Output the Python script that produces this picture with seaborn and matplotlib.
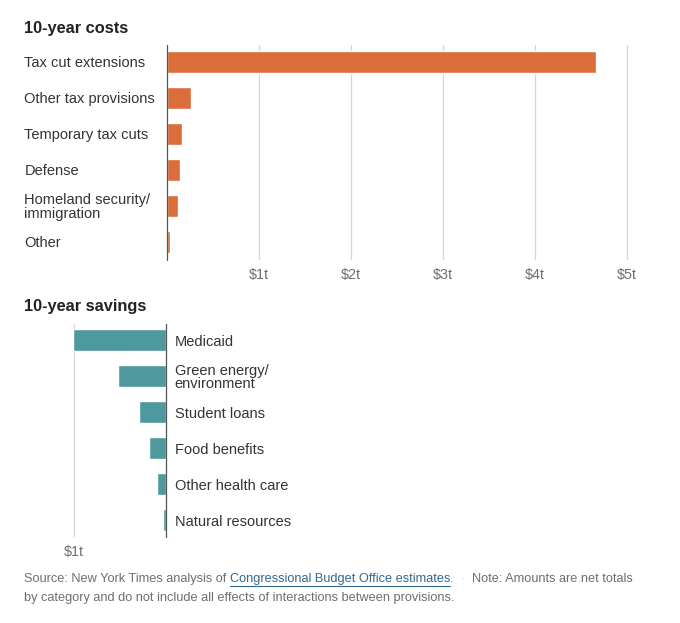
import matplotlib
matplotlib.use("Agg")
import matplotlib.pyplot as plt
import seaborn as sns
import pandas as pd

# values in trillions of dollars
cost_labels = ["Tax cut extensions", "Other tax provisions", "Temporary tax cuts",
               "Defense", "Homeland security/\nimmigration", "Other"]
cost_values = [4.67, 0.26, 0.165, 0.145, 0.125, 0.035]

saving_labels = ["Medicaid", "Green energy/\nenvironment", "Student loans",
                 "Food benefits", "Other health care", "Natural resources"]
saving_values = [-1.01, -0.525, -0.30, -0.185, -0.105, -0.035]

cost_ticks = [1, 2, 3, 4, 5]
cost_tick_labels = ["$1t", "$2t", "$3t", "$4t", "$5t"]
saving_ticks = [-1]
saving_tick_labels = ["$1t"]

ORANGE = "#DA6D3A"
TEAL = "#4E999D"
GRID = "#D6D6D6"
TEXT = "#333333"
MUTED = "#6E6E6E"

sns.set_style("white")
plt.rcParams["font.family"] = ["Liberation Sans", "DejaVu Sans"]

W, H = 680, 623
PX_PER_T = 92
fig = plt.figure(figsize=(W / 100, H / 100), dpi=100)


def px_axes(x0, y0, x1, y1):
    return fig.add_axes([x0 / W, 1 - y1 / H, (x1 - x0) / W, (y1 - y0) / H])


def style(ax, ticks, tick_labels):
    ax.set_xticks(ticks)
    ax.set_xticklabels(tick_labels, fontsize=10.3, color=MUTED)
    ax.tick_params(axis="x", length=0, pad=6)
    ax.tick_params(axis="y", length=0)
    ax.grid(axis="x", color=GRID, linewidth=0.9)
    ax.set_axisbelow(True)
    for s in ax.spines.values():
        s.set_visible(False)
    ax.axvline(0, color="#555555", linewidth=0.9, zorder=3, clip_on=False)
    ax.set_xlabel("")
    ax.set_ylabel("")


# costs
costs = pd.DataFrame({"label": cost_labels, "value": cost_values})
ax1 = px_axes(166.7, 45, 640, 260)
sns.barplot(data=costs, x="value", y="label", color=ORANGE, saturation=1,
            width=0.6, ax=ax1)
ax1.set_xlim(0, (640 - 166.7) / PX_PER_T)
ax1.set_ylim(5.5, -0.47)
style(ax1, cost_ticks, cost_tick_labels)
ax1.tick_params(axis="y", pad=102.5)
for t in ax1.get_yticklabels():
    t.set_horizontalalignment("left")
    t.set_fontsize(10.5)
    t.set_color(TEXT)
    t.set_linespacing(0.95)

# savings
savings = pd.DataFrame({"label": saving_labels, "value": saving_values})
ax2 = px_axes(24, 324, 166.3, 537)
sns.barplot(data=savings, x="value", y="label", color=TEAL, saturation=1,
            width=0.6, ax=ax2)
ax2.set_xlim(-142.3 / PX_PER_T, 0)
ax2.set_ylim(5.47, -0.45)
style(ax2, saving_ticks, saving_tick_labels)
ax2.yaxis.tick_right()
ax2.tick_params(axis="y", pad=6)
for t in ax2.get_yticklabels():
    t.set_fontsize(10.5)
    t.set_color(TEXT)
    t.set_linespacing(0.95)
for p in ax2.patches:
    p.set_clip_on(False)

fig.text(24 / W, 1 - 28 / H, "10-year costs", fontsize=11.8, fontweight="bold",
         color="#222222", va="center")
fig.text(24 / W, 1 - 306 / H, "10-year savings", fontsize=11.8, fontweight="bold",
         color="#222222", va="center")

# footer with underlined link
foot_font = ["Liberation Sans Narrow", "Liberation Sans", "DejaVu Sans"]
foot_size = 9.2
renderer = fig.canvas.get_renderer()
pieces = [("Source: New York Times analysis of ", MUTED, False),
          ("Congressional Budget Office estimates", "#326891", True),
          (".", MUTED, False),
          ("  \u00b7  ", "#C8C8C8", False),
          ("Note: Amounts are net totals", MUTED, False)]
x = 24
y1 = 579
for txt, col, underline in pieces:
    t = fig.text(x / W, 1 - y1 / H, txt, fontsize=foot_size, color=col,
                 va="center", family=foot_font)
    bb = t.get_window_extent(renderer)
    if underline:
        fig.add_artist(plt.Line2D([x / W, (x + bb.width) / W],
                                  [1 - (y1 + 7) / H, 1 - (y1 + 7) / H],
                                  color=col, linewidth=0.8))
    x += bb.width
fig.text(24 / W, 1 - 598 / H,
         "by category and do not include all effects of interactions between provisions.",
         fontsize=foot_size, color=MUTED, va="center", family=foot_font)

fig.savefig("out.png", dpi=100, facecolor="white")
